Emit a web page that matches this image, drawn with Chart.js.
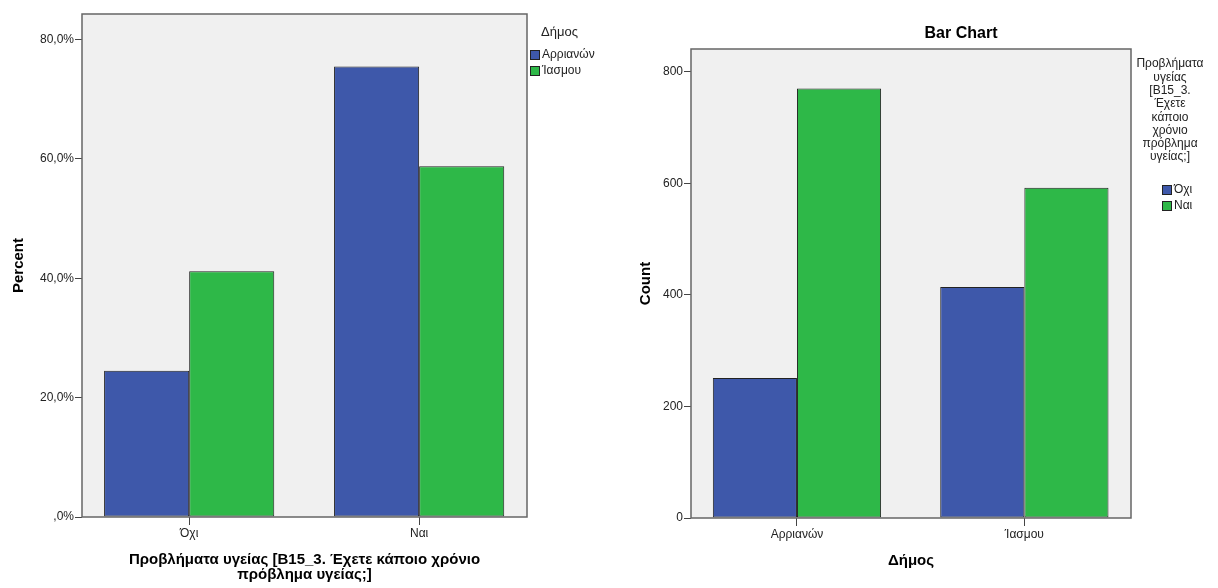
<!DOCTYPE html>
<html>
<head>
<meta charset="utf-8">
<script src="https://cdn.jsdelivr.net/npm/chart.js@4/dist/chart.umd.min.js"></script>
<style>
  body { margin: 0; background: #fff; width: 1218px; height: 588px; overflow: hidden; position: relative; }
  #left { position: absolute; left: 0; top: 0; }
  #right { position: absolute; left: 610px; top: 0; }
</style>
</head>
<body>
<canvas id="left" width="610" height="588"></canvas>
<canvas id="right" width="608" height="588"></canvas>
<script>
// categories
var problemCats = ["Όχι", "Ναι"];
var municipalities = ["Αρριανών", "Ίασμου"];

// left chart: percent within each municipality
var pctArrianon = [24.5, 75.5];
var pctIasmou = [41.2, 58.8];

// right chart: counts per municipality
var countOxi = [251, 414];
var countNai = [770, 592];

// tick labels
var percentTicks = [0, 20, 40, 60, 80];
var countTicks = [0, 200, 400, 600, 800];

var leftXTitle = ["Προβλήματα υγείας [B15_3. Έχετε κάποιο χρόνιο", "πρόβλημα υγείας;]"];
var rightXTitle = "Δήμος";
var leftLegendTitle = ["Δήμος"];
var rightLegendTitle = ["Προβλήματα", "υγείας", "[B15_3.", "Έχετε", "κάποιο", "χρόνιο", "πρόβλημα", "υγείας;]"];
var rightChartTitle = "Bar Chart";

var BLUE = "#3e58aa";
var GREEN = "#2eb848";
var FONT = "'Liberation Sans', Arial, sans-serif";

Chart.defaults.font.family = FONT;
Chart.defaults.animation = false;

function fmtPct(v) {
  if (v === 0) return ",0%";
  return v.toFixed(1).replace(".", ",") + "%";
}

function toPoints(values) {
  return values.map(function (v, i) {
    return { x: i, y: v };
  });
}

var framePlugin = {
  id: "plotFrame",
  beforeDraw: function (chart) {
    var a = chart.chartArea;
    var ctx = chart.ctx;
    ctx.save();
    ctx.fillStyle = "#f0f0f0";
    ctx.fillRect(a.left, a.top, a.right - a.left, a.bottom - a.top);
    ctx.restore();
  },
  afterDatasetsDraw: function (chart) {
    var a = chart.chartArea;
    var ctx = chart.ctx;
    ctx.save();
    ctx.strokeStyle = "#666";
    ctx.lineWidth = 1.5;
    ctx.strokeRect(a.left, a.top, a.right - a.left, a.bottom - a.top);
    ctx.restore();
  }
};

var legendPlugin = {
  id: "sideLegend",
  afterDraw: function (chart, args, opts) {
    var ctx = chart.ctx;
    ctx.save();
    ctx.fillStyle = "#222";
    ctx.textBaseline = "middle";
    ctx.font = opts.titleSize + "px " + FONT;
    ctx.textAlign = opts.titleAlign;
    opts.title.forEach(function (line, i) {
      ctx.fillText(line, opts.titleX, opts.titleY + i * opts.lineGap);
    });

    ctx.font = opts.itemSize + "px " + FONT;
    ctx.textAlign = "left";
    chart.data.datasets.forEach(function (ds, i) {
      var y = opts.itemY + i * opts.itemGap;
      ctx.fillStyle = ds.backgroundColor;
      ctx.fillRect(opts.boxX, y - 5, 10, 10);
      ctx.strokeStyle = "#222";
      ctx.lineWidth = 1;
      ctx.strokeRect(opts.boxX + 0.5, y - 4.5, 9, 9);
      ctx.fillStyle = "#222";
      ctx.fillText(ds.label, opts.boxX + 12, y);
    });

    if (opts.chartTitle) {
      ctx.font = "bold 16px " + FONT;
      ctx.textAlign = "center";
      ctx.fillStyle = "#000";
      ctx.fillText(opts.chartTitle, opts.chartTitleX, opts.chartTitleY);
    }
    ctx.restore();
  }
};

function xAxis(labels, height, title, titlePad) {
  return {
    type: "linear",
    min: -0.466,
    max: 1.469,
    offset: false,
    afterBuildTicks: function (s) {
      s.ticks = labels.map(function (l, i) { return { value: i }; });
    },
    ticks: {
      callback: function (v) { return labels[v]; },
      color: "#222",
      padding: 1,
      maxRotation: 0,
      font: { size: 12 }
    },
    grid: { offset: false, drawOnChartArea: false, drawTicks: true, tickLength: 8, color: "#444", lineWidth: 1 },
    border: { display: false },
    title: {
      display: true,
      text: title,
      color: "#000",
      padding: titlePad,
      font: { size: 15, weight: "bold", lineHeight: 1.0 }
    },
    afterFit: function (s) { s.height = height; }
  };
}

function yAxis(max, ticksArr, fmt, width, title, titlePad) {
  return {
    min: 0,
    max: max,
    afterBuildTicks: function (s) {
      s.ticks = ticksArr.map(function (v) { return { value: v }; });
    },
    ticks: {
      callback: fmt,
      color: "#222",
      padding: 1,
      font: { size: 12 }
    },
    grid: { drawOnChartArea: false, drawTicks: true, tickLength: 7, color: "#444", lineWidth: 1 },
    border: { display: false },
    title: {
      display: true,
      text: title,
      color: "#000",
      padding: titlePad,
      font: { size: 15, weight: "bold" }
    },
    afterFit: function (s) { s.width = width; }
  };
}

function barSet(label, values, color) {
  return {
    label: label,
    data: toPoints(values),
    backgroundColor: color,
    borderColor: "#222",
    borderWidth: 1,
    borderSkipped: false,
    categoryPercentage: 0.74,
    barPercentage: 1
  };
}

new Chart(document.getElementById("left").getContext("2d"), {
  type: "bar",
  data: {
    datasets: [
      barSet(municipalities[0], pctArrianon, BLUE),
      barSet(municipalities[1], pctIasmou, GREEN)
    ]
  },
  options: {
    responsive: false,
    layout: { padding: { left: 0, top: 14, right: 83, bottom: 0 } },
    plugins: {
      legend: { display: false },
      tooltip: { enabled: false },
      sideLegend: {
        title: leftLegendTitle, titleX: 541, titleY: 32, titleAlign: "left", titleSize: 13, lineGap: 14,
        boxX: 530, itemY: 55, itemGap: 16, itemSize: 12
      }
    },
    scales: {
      x: xAxis(problemCats, 71, leftXTitle, 6),
      y: yAxis(84.3, percentTicks, fmtPct, 82, "Percent", 10)
    }
  },
  plugins: [framePlugin, legendPlugin]
});

new Chart(document.getElementById("right").getContext("2d"), {
  type: "bar",
  data: {
    datasets: [
      barSet(problemCats[0], countOxi, BLUE),
      barSet(problemCats[1], countNai, GREEN)
    ]
  },
  options: {
    responsive: false,
    layout: { padding: { left: 0, top: 49, right: 87, bottom: 0 } },
    plugins: {
      legend: { display: false },
      tooltip: { enabled: false },
      sideLegend: {
        title: rightLegendTitle, titleX: 560, titleY: 64, titleAlign: "center", titleSize: 12, lineGap: 13.3,
        boxX: 552, itemY: 190, itemGap: 16, itemSize: 12,
        chartTitle: rightChartTitle, chartTitleX: 351, chartTitleY: 34
      }
    },
    scales: {
      x: xAxis(municipalities, 70, rightXTitle, 20),
      y: yAxis(841, countTicks, function (v) { return String(v); }, 81, "Count", 27)
    }
  },
  plugins: [framePlugin, legendPlugin]
});
</script>
</body>
</html>
